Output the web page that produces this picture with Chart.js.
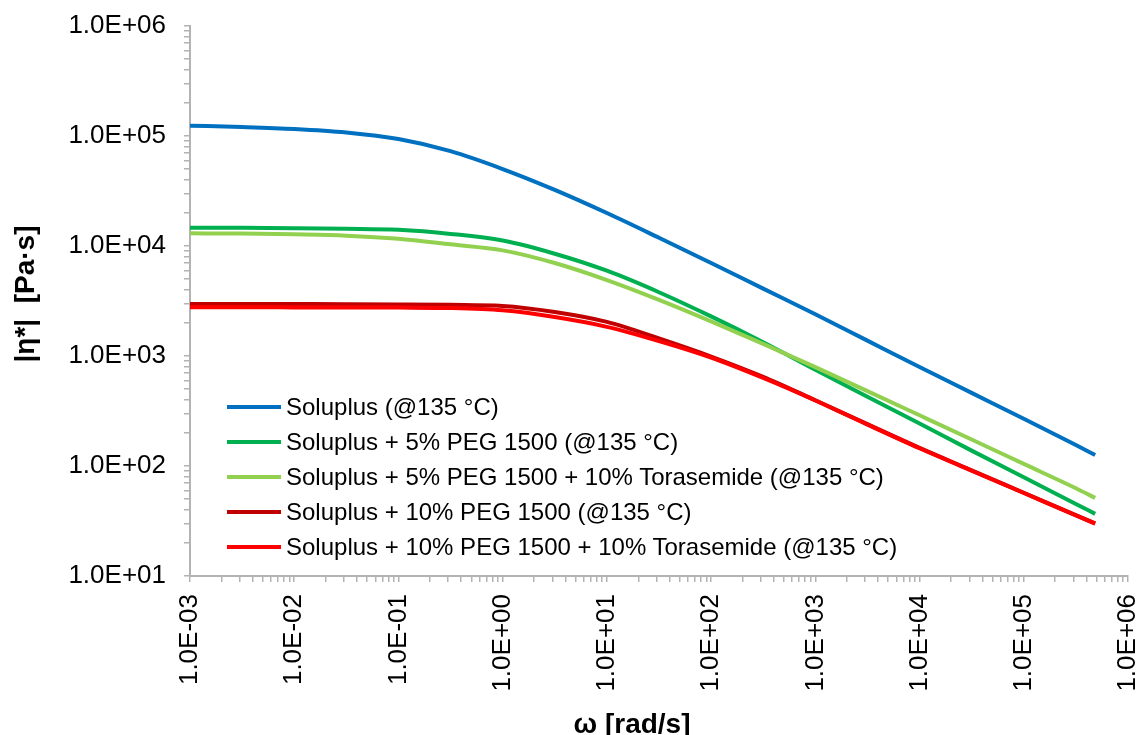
<!DOCTYPE html>
<html>
<head>
<meta charset="utf-8">
<title>Complex viscosity vs angular frequency</title>
<script src="https://cdn.jsdelivr.net/npm/chart.js@4/dist/chart.umd.min.js"></script>
<style>
  html, body { margin: 0; padding: 0; background: #ffffff; }
  #wrap { position: relative; width: 1140px; height: 735px; overflow: hidden; }
  #legend {
    position: absolute; left: 227px; top: 390px;
    font: 24px "Liberation Sans", Arial, sans-serif; color: #000;
  }
  #legend .item { display: flex; align-items: center; height: 34.8px; white-space: nowrap; }
  #legend .swatch { width: 54px; height: 4px; margin-right: 5px; flex: none; }
</style>
</head>
<body>
<div id="wrap">
  <canvas id="chart" width="1140" height="735"></canvas>
  <div id="legend"></div>
</div>
<script>
// Angular frequency ω [rad/s] shared by every series
const omega = [0.001, 0.00316, 0.01, 0.0316, 0.1, 0.316, 1, 3.16, 10, 31.6,
               100, 316, 1000, 3160, 10000, 31600, 100000, 316000, 484000];

// |η*| [Pa·s] for each formulation
const etaSoluplus = [124200, 120800, 115900, 107600, 93800, 72800, 50100, 32400, 19950, 11890,
                     7010, 4100, 2400, 1380, 794, 462, 269, 155, 126];
const etaPeg5 = [14660, 14620, 14520, 14350, 14030, 12880, 11220, 8510, 5960, 3800,
                 2290, 1334, 750, 427, 243, 138, 78.9, 45.2, 36.7];
const etaPeg5Tor = [13030, 12970, 12760, 12420, 11640, 10350, 9120, 7000, 4900, 3240,
                    2065, 1288, 791, 480, 289, 174, 104.5, 62.8, 51.3];
const etaPeg10 = [2972, 2972, 2965, 2958, 2944, 2917, 2851, 2512, 2042, 1445,
                  989, 646, 396, 240, 146, 91.4, 57.1, 35.7, 30.1];
const etaPeg10Tor = [2773, 2773, 2767, 2761, 2754, 2729, 2600, 2259, 1841, 1365,
                     966, 631, 394, 238, 145, 90.6, 56.8, 35.5, 29.9];

const seriesNames = [
  'Soluplus (@135 °C)',
  'Soluplus + 5% PEG 1500 (@135 °C)',
  'Soluplus + 5% PEG 1500 + 10% Torasemide (@135 °C)',
  'Soluplus + 10% PEG 1500 (@135 °C)',
  'Soluplus + 10% PEG 1500 + 10% Torasemide (@135 °C)'
];
const seriesValues = [etaSoluplus, etaPeg5, etaPeg5Tor, etaPeg10, etaPeg10Tor];
const seriesColors = ['#0070C0', '#00B050', '#92D050', '#C00000', '#FF0000'];

// Decade tick values and their labels
const xMajor = [1e-3, 1e-2, 1e-1, 1e0, 1e1, 1e2, 1e3, 1e4, 1e5, 1e6];
const xTickLabels = ['1.0E-03', '1.0E-02', '1.0E-01', '1.0E+00', '1.0E+01',
                     '1.0E+02', '1.0E+03', '1.0E+04', '1.0E+05', '1.0E+06'];
const yMajor = [1e1, 1e2, 1e3, 1e4, 1e5, 1e6];
const yTickLabels = ['1.0E+01', '1.0E+02', '1.0E+03', '1.0E+04', '1.0E+05', '1.0E+06'];

const xTitle = 'ω [rad/s]';
const yTitle = '|η*|  [Pa·s]';

const FONT = '"Liberation Sans", Arial, Helvetica, sans-serif';
const AXIS_GREY = '#B3B3B3';

// Decade ticks plus the 2..9 minor ticks inside each decade
function logTicks(major) {
  const out = [];
  for (let i = 0; i < major.length; i++) {
    out.push(major[i]);
    if (i < major.length - 1) {
      for (let m = 2; m <= 9; m++) out.push(major[i] * m);
    }
  }
  return out.map(v => ({ value: v }));
}

function labelFor(major, labels) {
  return (value) => {
    for (let i = 0; i < major.length; i++) {
      if (Math.abs(value / major[i] - 1) < 1e-9) return labels[i];
    }
    return '';
  };
}

const datasets = seriesNames.map((name, s) => ({
  label: name,
  data: omega.map((w, i) => ({ x: w, y: seriesValues[s][i] })),
  borderColor: seriesColors[s],
  backgroundColor: seriesColors[s],
  borderWidth: 4,
  pointRadius: 0,
  pointHoverRadius: 0,
  fill: false,
  cubicInterpolationMode: 'monotone',
  borderCapStyle: 'butt',
  order: seriesNames.length - s   // later series painted on top
}));

// Axis titles drawn beside the axes
const axisTitles = {
  id: 'axisTitles',
  afterDraw(chart) {
    const ctx = chart.ctx;
    ctx.save();
    ctx.fillStyle = '#000';
    ctx.font = 'bold 28px ' + FONT;
    ctx.textAlign = 'center';
    ctx.textBaseline = 'alphabetic';
    ctx.fillText(xTitle, 632, 733);
    ctx.translate(34, 294);
    ctx.rotate(-Math.PI / 2);
    ctx.fillText(yTitle, 0, 0);
    ctx.restore();
  }
};

const chart = new Chart(document.getElementById('chart'), {
  type: 'line',
  data: { datasets },
  plugins: [axisTitles],
  options: {
    responsive: false,
    animation: false,
    devicePixelRatio: 1,
    layout: { padding: { top: 26, right: 12, bottom: 0, left: 0 } },
    plugins: { legend: { display: false }, tooltip: { enabled: false } },
    scales: {
      x: {
        type: 'logarithmic',
        min: 1e-3,
        max: 1e6,
        afterBuildTicks: (scale) => { scale.ticks = logTicks(xMajor); },
        afterFit: (scale) => {
          scale.height = 159;
          scale.paddingLeft = 0;
          scale.paddingRight = 0;
        },
        border: { display: true, color: AXIS_GREY, width: 2 },
        grid: { drawOnChartArea: false, drawTicks: true, tickLength: 6, color: AXIS_GREY, lineWidth: 1.5 },
        ticks: {
          autoSkip: false,
          minRotation: 90,
          maxRotation: 90,
          padding: 12,
          color: '#000',
          font: { family: FONT, size: 26 },
          callback: labelFor(xMajor, xTickLabels)
        }
      },
      y: {
        type: 'logarithmic',
        min: 1e1,
        max: 1e6,
        afterBuildTicks: (scale) => { scale.ticks = logTicks(yMajor); },
        afterFit: (scale) => {
          scale.width = 190;
          scale.paddingTop = 0;
          scale.paddingBottom = 0;
        },
        border: { display: true, color: AXIS_GREY, width: 2 },
        grid: { drawOnChartArea: false, drawTicks: true, tickLength: 6, color: AXIS_GREY, lineWidth: 1.5 },
        ticks: {
          autoSkip: false,
          padding: 18,
          color: '#000',
          font: { family: FONT, size: 26 },
          callback: labelFor(yMajor, yTickLabels)
        }
      }
    }
  }
});

// Legend built from the chart's own datasets
const legendEl = document.getElementById('legend');
chart.data.datasets.forEach((ds) => {
  const item = document.createElement('div');
  item.className = 'item';
  const sw = document.createElement('span');
  sw.className = 'swatch';
  sw.style.background = ds.borderColor;
  const txt = document.createElement('span');
  txt.textContent = ds.label;
  item.appendChild(sw);
  item.appendChild(txt);
  legendEl.appendChild(item);
});
</script>
</body>
</html>
